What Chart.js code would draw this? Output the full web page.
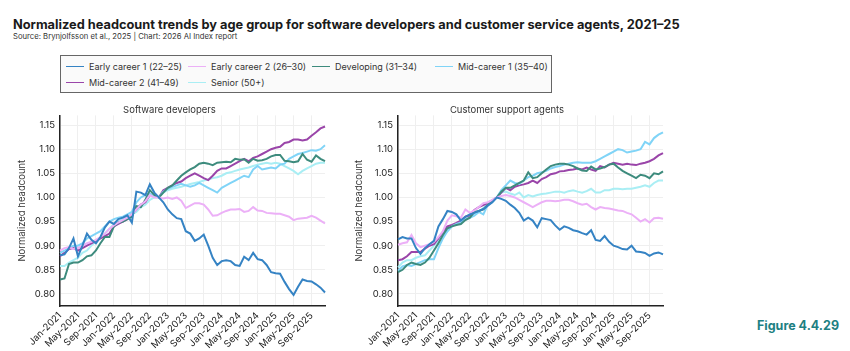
<!DOCTYPE html>
<html>
<head>
<meta charset="utf-8">
<script src="https://cdn.jsdelivr.net/npm/chart.js@4.4.1/dist/chart.umd.min.js"></script>
<style>
  body { margin: 0; background: #fff; font-family: Inter, 'Noto Sans', sans-serif; }
  #page { position: relative; width: 850px; height: 351px; overflow: hidden; }
  #title { position: absolute; left: 13px; top: 17px; font-size: 12.8px; font-weight: 700; color: #1a1a1a; white-space: nowrap; }
  #source { position: absolute; left: 13px; top: 32px; font-size: 7.7px; color: #333; white-space: nowrap; }
  #legend { position: absolute; left: 60px; top: 55px; width: 492px; height: 38px; border: 1.2px solid #666; background: #fafafa; box-sizing: border-box; }
  .item { position: absolute; font-size: 9px; color: #333; white-space: nowrap; line-height: 12px; }
  .item i { display: inline-block; width: 18px; height: 1.6px; vertical-align: middle; margin-right: 5px; position: relative; top: -1px; }
  canvas { position: absolute; }
  #figure { position: absolute; left: 757px; top: 318px; font-size: 12.5px; font-weight: 700; color: #1d8082; }
</style>
</head>
<body>
<div id="page">
  <div id="title">Normalized headcount trends by age group for software developers and customer service agents, 2021–25</div>
  <div id="source">Source: Brynjolfsson et al., 2025 | Chart: 2026 AI Index report</div>
  <div id="legend"></div>
  <canvas id="devChart" width="335" height="251" style="left:0;top:100px"></canvas>
  <canvas id="csChart" width="340" height="251" style="left:335px;top:100px"></canvas>
  <div id="figure">Figure 4.4.29</div>
</div>
<script>
// Catégories : mois de janvier 2021 à décembre 2025
const years = [2021, 2022, 2023, 2024, 2025];
const months = ['Jan', 'Feb', 'Mar', 'Apr', 'May', 'Jun', 'Jul', 'Aug', 'Sep', 'Oct', 'Nov', 'Dec'];
const labels = [];
years.forEach(y => months.forEach(m => labels.push(m + '-' + y)));

const yTicks = [0.80, 0.85, 0.90, 0.95, 1.00, 1.05, 1.10, 1.15];

const groupNames = ['Early career 1 (22–25)', 'Early career 2 (26–30)', 'Developing (31–34)', 'Mid-career 1 (35–40)', 'Mid-career 2 (41–49)', 'Senior (50+)'];
const groupColors = ['#3583c4', '#ecb0f7', '#3d8b7d', '#80d4f7', '#9a45a9', '#a9eef4'];

// Software developers
const sdEarly1 = [0.880,0.882,0.895,0.915,0.878,0.900,0.925,0.912,0.905,0.918,0.938,0.950,0.945,0.955,0.958,0.963,0.948,1.012,1.010,1.005,1.027,1.010,1.000,0.990,0.975,0.965,0.957,0.955,0.930,0.925,0.910,0.915,0.923,0.900,0.875,0.860,0.868,0.870,0.868,0.860,0.858,0.877,0.870,0.885,0.872,0.870,0.860,0.845,0.843,0.842,0.825,0.810,0.798,0.815,0.830,0.827,0.826,0.820,0.813,0.803];
const sdEarly2 = [0.890,0.895,0.897,0.893,0.895,0.900,0.905,0.908,0.912,0.918,0.925,0.935,0.942,0.948,0.953,0.958,0.965,0.975,0.985,0.992,1.005,1.000,1.000,0.998,1.000,0.997,1.000,0.993,0.978,0.983,0.988,0.988,0.985,0.975,0.962,0.963,0.968,0.972,0.975,0.975,0.976,0.970,0.972,0.980,0.973,0.972,0.968,0.967,0.966,0.966,0.963,0.960,0.953,0.956,0.957,0.958,0.962,0.958,0.952,0.946];
const sdDev = [0.830,0.832,0.862,0.865,0.865,0.870,0.878,0.880,0.890,0.905,0.918,0.918,0.940,0.948,0.950,0.955,0.960,0.982,0.980,0.995,1.015,1.005,1.000,1.010,1.020,1.025,1.035,1.045,1.052,1.058,1.063,1.070,1.072,1.070,1.067,1.072,1.073,1.074,1.073,1.080,1.078,1.079,1.072,1.080,1.076,1.077,1.080,1.085,1.088,1.088,1.076,1.075,1.073,1.075,1.090,1.078,1.074,1.087,1.080,1.075];
const sdMid1 = [0.885,0.890,0.895,0.900,0.900,0.905,0.915,0.920,0.925,0.930,0.940,0.950,0.955,0.958,0.960,0.965,0.970,0.990,1.000,1.005,1.008,1.003,1.000,1.012,1.018,1.022,1.025,1.028,1.025,1.022,1.025,1.030,1.025,1.020,1.015,1.010,1.020,1.025,1.030,1.035,1.040,1.045,1.042,1.058,1.065,1.058,1.060,1.062,1.060,1.068,1.070,1.080,1.085,1.090,1.092,1.095,1.098,1.097,1.100,1.108];
const sdMid2 = [0.878,0.885,0.893,0.895,0.890,0.895,0.900,0.905,0.910,0.915,0.920,0.925,0.940,0.945,0.950,0.955,0.965,0.975,0.985,0.990,1.005,1.003,1.000,1.015,1.020,1.025,1.030,1.033,1.040,1.045,1.050,1.045,1.040,1.036,1.045,1.055,1.060,1.060,1.065,1.070,1.075,1.080,1.075,1.082,1.085,1.090,1.095,1.100,1.103,1.105,1.113,1.115,1.120,1.120,1.118,1.120,1.128,1.135,1.143,1.147];
const sdSenior = [0.858,0.858,0.865,0.870,0.875,0.885,0.890,0.900,0.910,0.915,0.925,0.935,0.945,0.950,0.955,0.960,0.965,0.970,0.980,0.985,0.995,1.000,1.000,1.010,1.015,1.018,1.020,1.022,1.025,1.028,1.030,1.032,1.035,1.037,1.040,1.042,1.045,1.050,1.052,1.055,1.058,1.060,1.062,1.065,1.068,1.070,1.072,1.070,1.072,1.070,1.065,1.060,1.055,1.048,1.055,1.060,1.065,1.070,1.072,1.072];

// Customer support agents
const csEarly1 = [0.913,0.918,0.915,0.915,0.895,0.883,0.895,0.903,0.910,0.940,0.955,0.972,0.970,0.965,0.952,0.960,0.965,0.968,0.972,0.976,0.983,0.990,1.000,0.997,0.993,0.985,0.978,0.968,0.952,0.958,0.952,0.938,0.957,0.955,0.953,0.942,0.933,0.940,0.937,0.932,0.930,0.926,0.923,0.932,0.912,0.910,0.920,0.908,0.900,0.897,0.893,0.892,0.900,0.888,0.887,0.885,0.879,0.884,0.886,0.882];
const csEarly2 = [0.902,0.905,0.907,0.922,0.905,0.897,0.900,0.903,0.908,0.918,0.930,0.952,0.963,0.961,0.958,0.975,0.968,0.973,0.980,0.988,0.990,0.995,1.000,1.003,1.005,1.003,1.000,0.995,0.990,0.985,0.980,0.985,0.990,0.993,0.993,0.992,0.993,0.995,0.995,0.992,0.988,0.985,0.987,0.980,0.975,0.980,0.978,0.977,0.975,0.973,0.972,0.968,0.965,0.958,0.950,0.955,0.948,0.957,0.958,0.956];
const csDev = [0.845,0.850,0.860,0.865,0.862,0.860,0.865,0.875,0.890,0.905,0.922,0.936,0.940,0.943,0.945,0.953,0.958,0.970,0.972,0.975,0.985,0.992,1.000,1.012,1.020,1.020,1.025,1.030,1.035,1.052,1.040,1.042,1.050,1.058,1.065,1.068,1.070,1.070,1.068,1.065,1.060,1.056,1.055,1.064,1.058,1.060,1.063,1.068,1.070,1.062,1.055,1.050,1.045,1.040,1.047,1.045,1.040,1.050,1.048,1.054];
const csMid1 = [0.848,0.857,0.860,0.858,0.862,0.866,0.870,0.872,0.872,0.895,0.915,0.930,0.940,0.945,0.948,0.955,0.958,0.962,0.970,0.965,0.985,0.990,1.000,1.015,1.025,1.035,1.030,1.028,1.035,1.042,1.045,1.050,1.052,1.055,1.060,1.063,1.065,1.068,1.070,1.072,1.073,1.072,1.072,1.072,1.075,1.080,1.085,1.090,1.095,1.100,1.098,1.093,1.095,1.097,1.100,1.115,1.110,1.123,1.130,1.135];
const csMid2 = [0.870,0.872,0.878,0.887,0.887,0.887,0.894,0.900,0.903,0.915,0.928,0.940,0.943,0.947,0.952,0.960,0.963,0.974,0.980,0.984,0.988,0.994,1.000,1.010,1.020,1.015,1.022,1.025,1.027,1.030,1.035,1.030,1.038,1.042,1.048,1.050,1.054,1.055,1.057,1.058,1.060,1.058,1.062,1.058,1.055,1.065,1.062,1.068,1.072,1.070,1.068,1.070,1.068,1.067,1.070,1.072,1.075,1.080,1.087,1.092];
const csSenior = [0.855,0.865,0.870,0.870,0.875,0.878,0.880,0.890,0.900,0.910,0.920,0.930,0.940,0.945,0.950,0.955,0.960,0.965,0.970,0.978,0.985,0.992,1.000,1.010,1.012,1.008,1.005,1.010,1.000,1.005,1.002,1.005,1.007,1.008,1.010,1.012,1.012,1.010,1.013,1.015,1.012,1.010,1.013,1.018,1.010,1.010,1.015,1.015,1.018,1.018,1.017,1.018,1.018,1.020,1.022,1.025,1.022,1.030,1.035,1.035];

// Légende HTML commune aux deux graphiques
const legendPos = [[5, 5], [127, 5], [251, 5], [374, 5], [5, 21], [127, 21]];
const legend = document.getElementById('legend');
groupNames.forEach((name, k) => {
  const el = document.createElement('div');
  el.className = 'item';
  el.style.left = legendPos[k][0] + 'px';
  el.style.top = legendPos[k][1] + 'px';
  el.innerHTML = '<i style="background:' + groupColors[k] + '"></i>' + name;
  legend.appendChild(el);
});

function makeChart(id, title, series, padLeft, yWidth, padRight) {
  new Chart(document.getElementById(id), {
    type: 'line',
    data: {
      labels: labels,
      datasets: series.map((data, k) => ({
        label: groupNames[k],
        data: data,
        borderColor: groupColors[k],
        borderWidth: 2,
        pointRadius: 0,
        tension: 0,
      })),
    },
    options: {
      responsive: false,
      animation: false,
      layout: { padding: { left: padLeft, right: padRight, top: 0, bottom: 0 } },
      plugins: {
        legend: { display: false },
        tooltip: { enabled: false },
        title: {
          display: true,
          text: title,
          color: '#333',
          font: { family: 'Inter', size: 9.5, weight: 'normal' },
          padding: { top: 4, bottom: 0 },
        },
      },
      scales: {
        x: {
          offset: false,
          grid: { color: '#efefef', drawTicks: false },
          border: { color: '#222', width: 1.5 },
          ticks: {
            autoSkip: false,
            maxRotation: 45,
            minRotation: 45,
            padding: 4,
            color: '#222',
            font: { family: 'Inter', size: 9.5 },
          },
          afterBuildTicks: scale => { scale.ticks = scale.ticks.filter(t => t.value % 4 === 0); },
          afterFit: scale => { scale.height = 45; },
        },
        y: {
          min: 0.775,
          max: 1.17,
          grid: { color: '#efefef', drawTicks: false },
          border: { color: '#222', width: 1.5 },
          ticks: {
            padding: 5,
            color: '#222',
            font: { family: 'Inter', size: 9.5 },
            callback: v => v.toFixed(2),
          },
          afterBuildTicks: scale => { scale.ticks = yTicks.map(v => ({ value: v })); },
          afterFit: scale => { scale.width = yWidth; },
          title: {
            display: true,
            text: 'Normalized headcount',
            color: '#333',
            font: { family: 'Inter', size: 9.5 },
            padding: { top: 2, bottom: 0 },
          },
        },
      },
    },
  });
}

makeChart('devChart', 'Software developers', [sdEarly1, sdEarly2, sdDev, sdMid1, sdMid2, sdSenior], 14, 46, 10);
makeChart('csChart', 'Customer support agents', [csEarly1, csEarly2, csDev, csMid1, csMid2, csSenior], 16, 47, 12);
</script>
</body>
</html>
